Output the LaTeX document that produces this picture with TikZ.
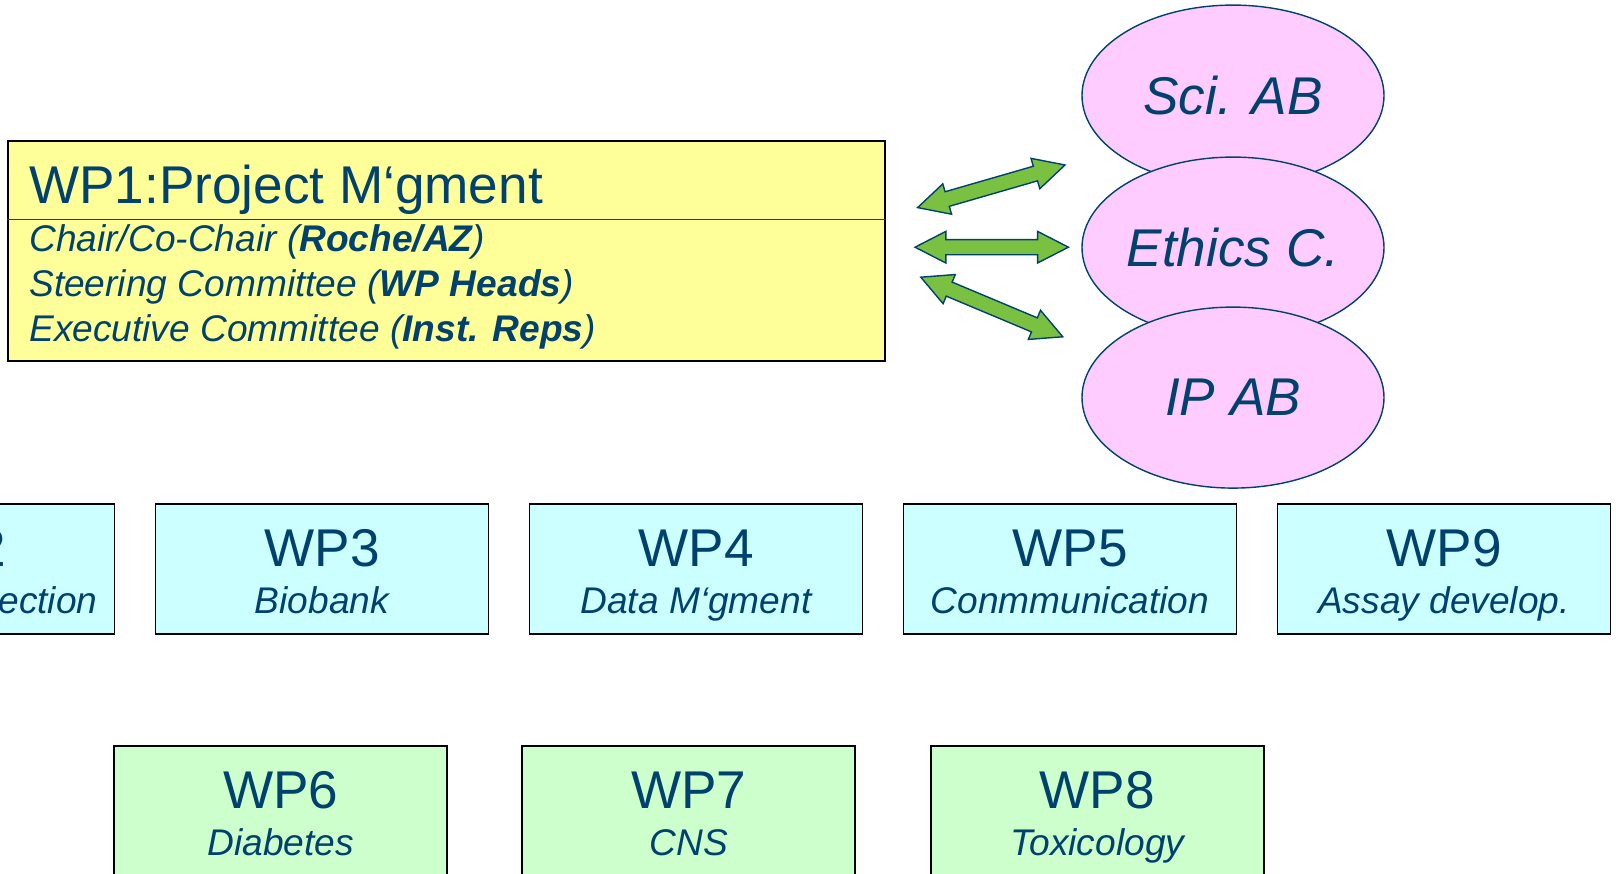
\documentclass[tikz,border=0pt]{standalone}
\usepackage{fontspec}
\setmainfont{Liberation Sans}
\usepackage{xcolor}
\definecolor{wpnavy}{RGB}{0, 65, 110}
\definecolor{wpyellow}{RGB}{255, 255, 153}
\definecolor{wpcyan}{RGB}{204, 255, 255}
\definecolor{wpgreen}{RGB}{204, 255, 204}
\definecolor{wppink}{RGB}{255, 204, 255}
\definecolor{wparrow}{RGB}{122, 193, 66}
\usetikzlibrary{shapes.geometric, calc}

\newcommand{\wpbig}{\fontsize{37.8}{44}\selectfont}
\newcommand{\wpsmall}{\fontsize{26.4}{32}\selectfont}

% Doppelpfeil (Blockpfeil) zwischen zwei benannten Punkten
\newcommand{\blockarrow}[2]{%
  \filldraw[arrowshape] (#1)
    -- ($(#1)!0.77cm!(#2)!0.395cm!90:(#2)$)
    -- ($(#1)!0.77cm!(#2)!0.19cm!90:(#2)$)
    -- ($(#2)!0.77cm!(#1)!0.19cm!-90:(#1)$)
    -- ($(#2)!0.77cm!(#1)!0.395cm!-90:(#1)$)
    -- (#2)
    -- ($(#2)!0.77cm!(#1)!0.395cm!90:(#1)$)
    -- ($(#2)!0.77cm!(#1)!0.19cm!90:(#1)$)
    -- ($(#1)!0.77cm!(#2)!0.19cm!-90:(#2)$)
    -- ($(#1)!0.77cm!(#2)!0.395cm!-90:(#2)$)
    -- cycle;}

\begin{document}
\begin{tikzpicture}[
    wpbox/.style={draw=black, line width=1.4pt, minimum width=8.325cm, minimum height=3.25cm, inner sep=0pt},
    board/.style={ellipse, draw=wpnavy, line width=1pt, fill=wppink, minimum width=7.55cm, minimum height=4.525cm, inner sep=0pt, text=wpnavy, font=\wpbig\itshape},
    wplabel/.style={anchor=base, inner sep=0pt, text=wpnavy, font=\wpbig},
    wpsub/.style={anchor=base, inner sep=0pt, text=wpnavy, font=\wpsmall\itshape},
    wpline/.style={anchor=base west, inner sep=0pt, text=wpnavy, font=\wpsmall\itshape},
    arrowshape/.style={fill=wparrow, draw=wpnavy, line width=1pt, line join=miter}]

\useasboundingbox (0, 0) rectangle (40.4, 21.85);
\clip (0, 0) rectangle (40.4, 21.85);

% === WP1: Projektmanagement ===
\node[draw=black, line width=1.4pt, fill=wpyellow, minimum width=21.92cm, minimum height=5.5cm, inner sep=0pt] (wp1) at (11.165, 15.575) {};
\draw[wpnavy, line width=0.8pt] ([yshift=-1.985cm]wp1.north west) -- ([yshift=-1.985cm]wp1.north east);
\node[anchor=base west, inner sep=0pt, text=wpnavy, font=\wpbig] (wp1-title) at (0.72, 16.75) {WP1:Project M‘gment};
\node[wpline] (wp1-chair) at (0.725, 15.5625) {Chair/Co-Chair (\textbf{Roche/AZ})};
\node[wpline] (wp1-steer) at (0.725, 14.425) {Steering Committee (\textbf{WP Heads})};
\node[wpline] (wp1-exec) at (0.725, 13.3) {Executive Committee (\textbf{Inst. Reps})};

% === Beiräte ===
\node[board] (sci) at (30.825, 19.46) {Sci. AB};
\node[board] (ethics) at (30.825, 15.66) {Ethics C.};
\node[board] (ip) at (30.825, 11.91) {IP AB};

% Pfeile
\coordinate (sci-w) at (22.94, 16.66);
\coordinate (sci-e) at (26.625, 17.725);
\coordinate (ethics-w) at (22.875, 15.67);
\coordinate (ethics-e) at (26.71, 15.67);
\coordinate (ip-w) at (23.02, 14.92);
\coordinate (ip-e) at (26.57, 13.43);
\blockarrow{sci-w}{sci-e}
\blockarrow{ethics-w}{ethics-e}
\blockarrow{ip-w}{ip-e}

% === Querschnitts-WPs ===
\node[wpbox, fill=wpcyan] (wp2) at (-1.3, 7.625) {};
\node[wplabel] (wp2-t) at ([yshift=-1.575cm]wp2.north) {WP2};
\node[wpsub] (wp2-s) at ([yshift=-2.75cm]wp2.north) {Sample Collection};

\node[wpbox, fill=wpcyan] (wp3) at (8.05, 7.625) {};
\node[wplabel] (wp3-t) at ([yshift=-1.575cm]wp3.north) {WP3};
\node[wpsub] (wp3-s) at ([yshift=-2.75cm]wp3.north) {Biobank};

\node[wpbox, fill=wpcyan] (wp4) at (17.4, 7.625) {};
\node[wplabel] (wp4-t) at ([yshift=-1.575cm]wp4.north) {WP4};
\node[wpsub] (wp4-s) at ([yshift=-2.75cm]wp4.north) {Data M‘gment};

\node[wpbox, fill=wpcyan] (wp5) at (26.75, 7.625) {};
\node[wplabel] (wp5-t) at ([yshift=-1.575cm]wp5.north) {WP5};
\node[wpsub] (wp5-s) at ([yshift=-2.75cm]wp5.north) {Conmmunication};

\node[wpbox, fill=wpcyan] (wp9) at (36.1, 7.625) {};
\node[wplabel] (wp9-t) at ([yshift=-1.575cm]wp9.north) {WP9};
\node[wpsub] (wp9-s) at ([yshift=-2.75cm]wp9.north) {Assay develop.};

% === Indikations-WPs ===
\node[wpbox, fill=wpgreen] (wp6) at (7.02, 1.575) {};
\node[wplabel] (wp6-t) at ([yshift=-1.575cm]wp6.north) {WP6};
\node[wpsub] (wp6-s) at ([yshift=-2.77cm]wp6.north) {Diabetes};

\node[wpbox, fill=wpgreen] (wp7) at (17.22, 1.575) {};
\node[wplabel] (wp7-t) at ([yshift=-1.575cm]wp7.north) {WP7};
\node[wpsub] (wp7-s) at ([yshift=-2.77cm]wp7.north) {CNS};

\node[wpbox, fill=wpgreen] (wp8) at (27.43, 1.575) {};
\node[wplabel] (wp8-t) at ([yshift=-1.575cm]wp8.north) {WP8};
\node[wpsub] (wp8-s) at ([yshift=-2.77cm]wp8.north) {Toxicology};

\end{tikzpicture}
\end{document}
